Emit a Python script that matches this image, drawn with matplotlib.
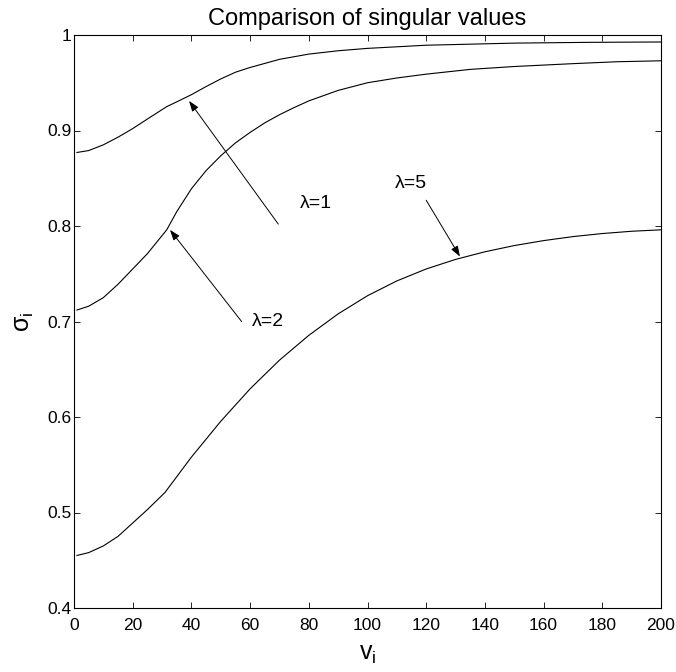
import matplotlib
matplotlib.use("Agg")
import matplotlib.pyplot as plt

# Singular values sigma_i versus index v_i for three regularisation weights
v_lam1 = [1, 5, 10, 15, 20, 25, 31.6, 35, 40, 45, 50, 55, 60, 70, 80, 90, 100, 120,
          150, 175, 200]
s_lam1 = [0.877, 0.879, 0.885, 0.893, 0.902, 0.912, 0.925, 0.930, 0.9375, 0.946, 0.954,
          0.961, 0.966, 0.9745, 0.980, 0.9835, 0.986, 0.9893, 0.9915, 0.9923, 0.9927]

v_lam2 = [1, 5, 10, 15, 20, 25, 31.6, 35, 40, 45, 50, 55, 60, 65, 70, 75, 80, 90, 100,
          110, 120, 135, 150, 170, 185, 200]
s_lam2 = [0.712, 0.716, 0.725, 0.739, 0.755, 0.771, 0.796, 0.815, 0.839, 0.858, 0.8735,
          0.887, 0.898, 0.908, 0.9165, 0.924, 0.931, 0.942, 0.950, 0.955, 0.959, 0.964,
          0.967, 0.970, 0.972, 0.973]

v_lam5 = [1, 5, 10, 15, 20, 25, 31, 40, 50, 60, 70, 80, 90, 100, 110, 120, 130, 140,
          150, 160, 170, 180, 190, 200]
s_lam5 = [0.455, 0.458, 0.465, 0.475, 0.489, 0.503, 0.521, 0.558, 0.5955, 0.6295,
          0.6595, 0.6855, 0.708, 0.727, 0.7425, 0.755, 0.765, 0.773, 0.7795, 0.7847,
          0.7889, 0.7921, 0.7945, 0.796]

# Annotation labels: text anchor, arrow tail and arrow tip (data units)
labels = ["λ=1", "λ=2", "λ=5"]
label_xy = [(77.0, 0.824), (60.5, 0.700), (109.4, 0.845)]
arrow_tail = [(69.6, 0.802), (57.1, 0.700), (120.0, 0.827)]
arrow_tip = [(39.2, 0.931), (32.7, 0.796), (131.5, 0.768)]

x_ticks = list(range(0, 201, 20))
y_ticks = [0.4, 0.5, 0.6, 0.7, 0.8, 0.9, 1.0]
y_tick_labels = ["0.4", "0.5", "0.6", "0.7", "0.8", "0.9", "1"]

font = ["Liberation Sans", "DejaVu Sans"]
plt.rcParams["font.family"] = font
plt.rcParams["mathtext.fontset"] = "custom"
plt.rcParams["mathtext.rm"] = "Liberation Sans"
plt.rcParams["mathtext.it"] = "Liberation Sans"
plt.rcParams["mathtext.bf"] = "Liberation Sans"

fig = plt.figure(figsize=(6.76, 6.72), dpi=100)
ax = fig.add_axes([74 / 676, 1 - 608 / 672, 587 / 676, 573 / 672])

for vx, sy in [(v_lam1, s_lam1), (v_lam2, s_lam2), (v_lam5, s_lam5)]:
    ax.plot(vx, sy, color="black", lw=0.8)

for text, txy, tail, tip in zip(labels, label_xy, arrow_tail, arrow_tip):
    ax.annotate("", xy=tip, xytext=tail,
                arrowprops=dict(arrowstyle="-|>,head_length=0.45,head_width=0.16",
                                color="black", lw=0.7, mutation_scale=14,
                                shrinkA=0, shrinkB=0))
    ax.text(txy[0], txy[1], text, ha="left", va="center", fontsize=14)

ax.set_xlim(0, 200)
ax.set_ylim(0.4, 1.0)
ax.set_xticks(x_ticks)
ax.set_xticklabels([str(t) for t in x_ticks])
ax.set_yticks(y_ticks)
ax.set_yticklabels(y_tick_labels)
ax.tick_params(direction="in", top=True, right=True, length=4.5, width=0.6,
               labelsize=12.5)
ax.tick_params(axis="x", pad=7)
ax.tick_params(axis="y", pad=2)
for sp in ax.spines.values():
    sp.set_linewidth(0.8)

ax.set_title("Comparison of singular values", fontsize=17, pad=7)
ax.set_xlabel(r"$\mathrm{v}_\mathrm{i}$", fontsize=18)
ax.set_ylabel(r"$\sigma_\mathrm{i}$", fontsize=18)
ax.xaxis.set_label_coords(0.5, -0.06)
ax.yaxis.set_label_coords(-0.064, 0.5)

fig.savefig("out.png", dpi=100)
